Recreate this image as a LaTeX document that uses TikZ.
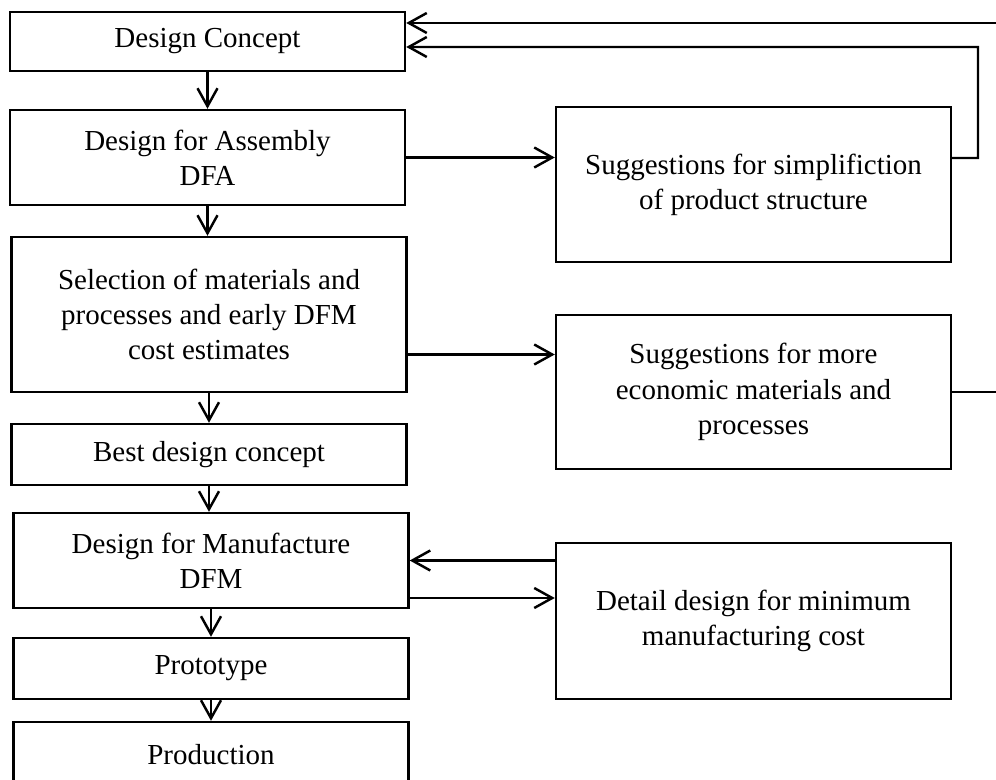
\documentclass[tikz,border=0pt]{standalone}
\usepackage{fontspec}
\setmainfont{Liberation Serif}
\usetikzlibrary{positioning,arrows.meta}

\begin{document}
\begin{tikzpicture}[
  blk/.style={draw,rectangle,line width=1.4pt,align=center,minimum width=7.9cm},
  arr/.style={line width=1.4pt,-{Straight Barb[length=0.36cm,width=0.4cm]}},
  font=\fontsize{16.5}{20}\selectfont]
\useasboundingbox (0,0) rectangle (19.92,-15.6);

% Main flow
\node[blk,minimum height=1.18cm] (dc) at (4.15,-0.83) {Design Concept};
\node[blk,minimum height=1.9cm] (dfa) at (4.15,-3.15) {Design for Assembly\\DFA};
\node[blk,minimum height=3.1cm] (sel) at (4.18,-6.29) {Selection of materials and\\processes and early DFM\\cost estimates};
\node[blk,minimum height=1.22cm] (best) at (4.18,-9.09) {Best design concept};
\node[blk,minimum height=1.9cm] (dfm) at (4.22,-11.21) {Design for Manufacture\\DFM};
\node[blk,minimum height=1.22cm] (proto) at (4.22,-13.37) {Prototype};
\node[blk,minimum height=1.32cm] (prod) at (4.22,-15.1) {Production};

% Side boxes
\node[blk,minimum height=3.1cm] (simp) at (15.07,-3.69) {Suggestions for simplifiction\\of product structure};
\node[blk,minimum height=3.08cm] (econ) at (15.07,-7.84) {Suggestions for more\\economic materials and\\processes};
\node[blk,minimum height=3.12cm] (detail) at (15.07,-12.42) {Detail design for minimum\\manufacturing cost};

% Arrows down
\draw[arr] (dc) -- (dfa);
\draw[arr] (dfa) -- (dfa |- sel.north);
\draw[arr] (sel) -- (best);
\draw[arr] (best) -- (best |- dfm.north);
\draw[arr] (dfm) -- (proto);
\draw[arr] (proto) -- (prod);

% Arrows to the side
\draw[arr] (dfa.east) -- (dfa.east -| simp.west);
\draw[arr] ([yshift=-0.8cm]sel.east) -- ([yshift=-0.8cm]sel.east -| econ.west);
\draw[arr] (detail.west |- dfm.east) -- (dfm.east);
\draw[arr] ([yshift=-0.75cm]dfm.east) -- ([yshift=-0.75cm]dfm.east -| detail.west);

% Feedback
\draw[arr] ([yshift=0.53cm]simp.east) -| (19.56,-0.94) -- ([yshift=-0.11cm]dc.east);
\draw[arr] (econ.east) -- ++(1.0,0) |- ([yshift=0.37cm]dc.east);
\end{tikzpicture}
\end{document}
